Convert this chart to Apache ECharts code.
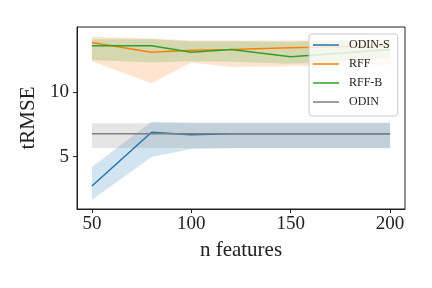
<!DOCTYPE html>
<html>
<head>
<meta charset="utf-8">
<script src="https://cdn.jsdelivr.net/npm/echarts@6/dist/echarts.min.js"></script>
<style>html,body{margin:0;padding:0;background:#fff}#c{width:432px;height:288px}</style>
</head>
<body>
<div id="c"></div>
<script>
const nFeatures = [50, 80, 100, 120, 150, 200];
const xTicks = [50, 100, 150, 200];
const yTicks = [5, 10];

const odinSMean = [2.73, 6.9, 6.7, 6.78, 6.78, 6.78];
const odinSLow  = [1.67, 4.97, 5.6, 5.65, 5.65, 5.65];
const odinSHigh = [4.2, 7.71, 7.65, 7.65, 7.65, 7.65];

const rffMean = [13.85, 13.1, 13.25, 13.3, 13.45, 13.6];
const rffLow  = [12.4, 10.7, 12.3, 11.95, 12.0, 12.1];
const rffHigh = [14.3, 14.15, 14.0, 14.0, 14.0, 14.05];

const rffBMean = [13.6, 13.6, 13.1, 13.3, 12.75, 13.3];
const rffBLow  = [12.5, 12.3, 12.4, 12.35, 12.2, 12.6];
const rffBHigh = [14.1, 14.1, 13.95, 13.95, 13.9, 14.1];

const odinMean = [6.78, 6.78, 6.78, 6.78, 6.78, 6.78];
const odinLow  = [5.68, 5.68, 5.68, 5.68, 5.68, 5.68];
const odinHigh = [7.6, 7.6, 7.6, 7.6, 7.6, 7.6];

const names = ['ODIN-S', 'RFF', 'RFF-B', 'ODIN'];
const colors = ['#1f77b4', '#ff7f0e', '#2ca02c', '#7f7f7f'];

function pairs(ys) { return nFeatures.map((x, i) => [x, ys[i]]); }

function bandSeries(name, color, lo, hi) {
  return {
    name: name + '_band', type: 'custom', silent: true,
    data: nFeatures.map((x, i) => [x, lo[i], hi[i]]),
    encode: { x: 0, y: [1, 2] },
    renderItem: function (params, api) {
      if (params.dataIndexInside !== 0) return null;
      const n = params.dataInsideLength;
      const top = [], bot = [];
      for (let i = 0; i < n; i++) {
        const x = api.value(0, i);
        top.push(api.coord([x, api.value(2, i)]));
        bot.push(api.coord([x, api.value(1, i)]));
      }
      return {
        type: 'polygon',
        shape: { points: top.concat(bot.reverse()) },
        style: { fill: color, opacity: 0.2, stroke: null }
      };
    }
  };
}

function group(name, color, mean, lo, hi) {
  return [
    bandSeries(name, color, lo, hi),
    { name: name, type: 'line', data: pairs(mean), symbol: 'none', showSymbol: false,
      lineStyle: { color: color, width: 1.5 }, itemStyle: { color: color } }
  ];
}

const series = [].concat(
  group(names[0], colors[0], odinSMean, odinSLow, odinSHigh),
  group(names[1], colors[1], rffMean, rffLow, rffHigh),
  group(names[2], colors[2], rffBMean, rffBLow, rffBHigh),
  group(names[3], colors[3], odinMean, odinLow, odinHigh)
);

const font = 'Liberation Serif, DejaVu Serif, serif';
const chart = echarts.init(document.getElementById('c'), null, { renderer: 'canvas' });
chart.setOption({
  animation: false,
  grid: { left: 77, right: 27, top: 27, bottom: 79, show: true, borderColor: '#222', borderWidth: 1 },
  xAxis: {
    type: 'value', min: 42.5, max: 207.5,
    name: 'n features', nameLocation: 'middle', nameGap: 31,
    nameTextStyle: { fontFamily: font, fontSize: 21, color: '#222' },
    axisLine: { show: true, lineStyle: { color: '#222', width: 1 } },
    axisTick: { show: true, length: 4, customValues: xTicks, lineStyle: { color: '#222' } },
    axisLabel: { customValues: xTicks, fontFamily: font, fontSize: 19, color: '#222', margin: 6 },
    splitLine: { show: false }
  },
  yAxis: {
    type: 'value', min: 0.95, max: 15.05,
    name: 'tRMSE', nameLocation: 'middle', nameGap: 33,
    nameTextStyle: { fontFamily: font, fontSize: 21, color: '#222' },
    axisLine: { show: true, lineStyle: { color: '#222', width: 1 } },
    axisTick: { show: true, length: 4, customValues: yTicks, lineStyle: { color: '#222' } },
    axisLabel: { customValues: yTicks, fontFamily: font, fontSize: 19, color: '#222', margin: 8 },
    splitLine: { show: false }
  },
  legend: {
    data: names,
    orient: 'vertical',
    left: 309, top: 34,
    padding: [4, 8, 7, 4],
    icon: 'rect',
    itemWidth: 26, itemHeight: 2, itemGap: 5,
    itemStyle: { opacity: 0.75 },
    backgroundColor: 'rgba(255,255,255,0.8)',
    borderColor: '#ccc', borderWidth: 1, borderRadius: 3,
    textStyle: { fontFamily: font, fontSize: 12, lineHeight: 14, color: '#222', padding: [0, 0, 0, 5] }
  },
  series: series
});
</script>
</body>
</html>
